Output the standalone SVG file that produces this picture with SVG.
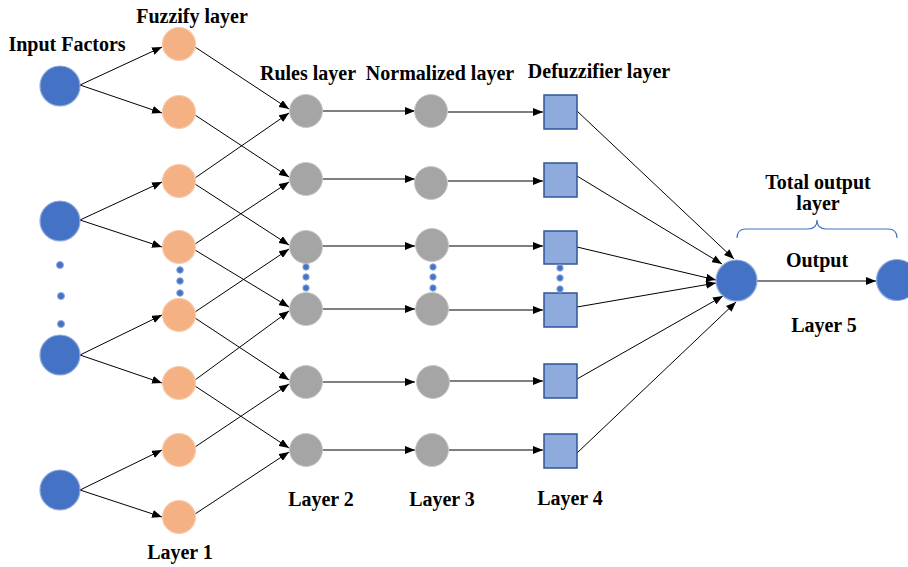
<svg xmlns="http://www.w3.org/2000/svg" width="908" height="567" viewBox="0 0 908 567">
<style>
text{font-family:"Liberation Serif","Times New Roman",serif;font-weight:bold;font-size:20px;fill:#000;text-anchor:middle}
.in{fill:#4472C4;stroke:#8FAADC;stroke-width:1.2}
.fz{fill:#F4B183;stroke:#F8CBAD;stroke-width:1.2}
.rl{fill:#A5A5A5;stroke:#C9C9C9;stroke-width:1}
.df{fill:#8FAADC;stroke:#2F5597;stroke-width:1.5}
.dot{fill:#4472C4;stroke:#8FAADC;stroke-width:1}
.c line{stroke:#000;stroke-width:1;marker-end:url(#ah)}
.c .h{stroke-width:1.2}
.br{fill:none;stroke:#4472C4;stroke-width:1.2}
</style>
<defs>
<marker id="ah" markerUnits="userSpaceOnUse" markerWidth="10" markerHeight="8" refX="10" refY="4" orient="auto">
<path d="M0,0 L10,4 L0,8 z" fill="#000"/>
</marker>
</defs>
<rect width="908" height="567" fill="#fff"/>
<g id="labels">
<text x="67" y="51">Input Factors</text>
<text x="192" y="23">Fuzzify layer</text>
<text x="308" y="80">Rules layer</text>
<text x="440" y="80">Normalized layer</text>
<text x="599" y="78">Defuzzifier layer</text>
<text x="818" y="189">Total output</text>
<text x="818" y="210">layer</text>
<text x="817" y="267">Output</text>
<text x="824" y="332">Layer 5</text>
<text x="180" y="559">Layer 1</text>
<text x="321" y="506">Layer 2</text>
<text x="442" y="506">Layer 3</text>
<text x="570" y="505">Layer 4</text>
</g>
<g class="c" id="connectors">
<line x1="80" y1="85" x2="162" y2="47"/>
<line x1="80" y1="85" x2="162" y2="113"/>
<line x1="80" y1="220" x2="162" y2="182"/>
<line x1="80" y1="220" x2="162" y2="247"/>
<line x1="80" y1="355" x2="162" y2="315"/>
<line x1="80" y1="355" x2="162" y2="383"/>
<line x1="80" y1="490" x2="162" y2="450"/>
<line x1="80" y1="490" x2="162" y2="517"/>
<line x1="195" y1="47" x2="289" y2="109"/>
<line x1="195" y1="115" x2="289" y2="177"/>
<line x1="195" y1="178" x2="289" y2="113"/>
<line x1="195" y1="184" x2="289" y2="245"/>
<line x1="195" y1="244" x2="289" y2="182"/>
<line x1="195" y1="250" x2="289" y2="307"/>
<line x1="195" y1="312" x2="289" y2="249"/>
<line x1="195" y1="318" x2="289" y2="380"/>
<line x1="195" y1="380" x2="289" y2="311"/>
<line x1="195" y1="386" x2="289" y2="448"/>
<line x1="195" y1="447" x2="289" y2="384"/>
<line x1="195" y1="514" x2="289" y2="452"/>
<line class="h" x1="322" y1="111" x2="415" y2="111"/>
<line class="h" x1="322" y1="179" x2="415" y2="179"/>
<line class="h" x1="322" y1="246" x2="415" y2="246"/>
<line class="h" x1="322" y1="309" x2="415" y2="309"/>
<line class="h" x1="322" y1="382" x2="415" y2="382"/>
<line class="h" x1="322" y1="450" x2="415" y2="450"/>
<line class="h" x1="448" y1="112" x2="543" y2="112"/>
<line class="h" x1="448" y1="181" x2="543" y2="181"/>
<line class="h" x1="448" y1="246" x2="543" y2="246"/>
<line class="h" x1="448" y1="310" x2="543" y2="310"/>
<line class="h" x1="448" y1="381" x2="543" y2="381"/>
<line class="h" x1="448" y1="450" x2="543" y2="450"/>
<line x1="577" y1="111" x2="734" y2="259"/>
<line x1="577" y1="176" x2="722" y2="264"/>
<line x1="577" y1="247" x2="716" y2="280"/>
<line x1="577" y1="307" x2="716" y2="283"/>
<line x1="577" y1="379" x2="723" y2="296"/>
<line x1="577" y1="453" x2="736" y2="302"/>
<line class="h" x1="757" y1="281" x2="876" y2="281"/>
</g>
<g id="input1"><circle class="in" cx="60" cy="86" r="20"/></g>
<g id="input2"><circle class="in" cx="60" cy="221" r="20"/></g>
<g id="input3"><circle class="in" cx="60" cy="355" r="20"/></g>
<g id="input4"><circle class="in" cx="60" cy="490" r="20"/></g>
<g id="input-dots">
<circle class="dot" cx="60" cy="265" r="3.5"/>
<circle class="dot" cx="61" cy="296" r="3.5"/>
<circle class="dot" cx="61" cy="324" r="3.5"/>
</g>
<g id="fuzz1"><circle class="fz" cx="179" cy="44" r="16.5"/></g>
<g id="fuzz2"><circle class="fz" cx="179" cy="112" r="16.5"/></g>
<g id="fuzz3"><circle class="fz" cx="179" cy="181" r="16.5"/></g>
<g id="fuzz4"><circle class="fz" cx="179" cy="247" r="16.5"/></g>
<g id="fuzz5"><circle class="fz" cx="179" cy="315" r="16.5"/></g>
<g id="fuzz6"><circle class="fz" cx="179" cy="383" r="16.5"/></g>
<g id="fuzz7"><circle class="fz" cx="179" cy="450" r="16.5"/></g>
<g id="fuzz8"><circle class="fz" cx="179" cy="517" r="16.5"/></g>
<g id="fuzz-dots">
<circle class="dot" cx="180" cy="270" r="3.3"/>
<circle class="dot" cx="180" cy="281" r="3.3"/>
<circle class="dot" cx="180" cy="293" r="3.3"/>
</g>
<g id="rule1"><circle class="rl" cx="306" cy="111" r="16.5"/></g>
<g id="rule2"><circle class="rl" cx="306" cy="179" r="16.5"/></g>
<g id="rule3"><circle class="rl" cx="306" cy="247" r="16.5"/></g>
<g id="rule4"><circle class="rl" cx="306" cy="309" r="16.5"/></g>
<g id="rule5"><circle class="rl" cx="306" cy="382" r="16.5"/></g>
<g id="rule6"><circle class="rl" cx="306" cy="450" r="16.5"/></g>
<g id="rule-dots">
<circle class="dot" cx="306" cy="267" r="3.2"/>
<circle class="dot" cx="306" cy="277" r="3.2"/>
<circle class="dot" cx="306" cy="288" r="3.2"/>
</g>
<g id="norm1"><circle class="rl" cx="431" cy="111" r="16.5"/></g>
<g id="norm2"><circle class="rl" cx="431" cy="183" r="16.5"/></g>
<g id="norm3"><circle class="rl" cx="432" cy="245" r="16.5"/></g>
<g id="norm4"><circle class="rl" cx="432" cy="309" r="16.5"/></g>
<g id="norm5"><circle class="rl" cx="433" cy="382" r="16.5"/></g>
<g id="norm6"><circle class="rl" cx="432" cy="450" r="16.5"/></g>
<g id="norm-dots">
<circle class="dot" cx="433" cy="267" r="3.2"/>
<circle class="dot" cx="433" cy="277" r="3.2"/>
<circle class="dot" cx="433" cy="288" r="3.2"/>
</g>
<g id="defuzz1"><rect class="df" x="544" y="95" width="33" height="34"/></g>
<g id="defuzz2"><rect class="df" x="544" y="163" width="33" height="34"/></g>
<g id="defuzz3"><rect class="df" x="544" y="231" width="33" height="33"/></g>
<g id="defuzz4"><rect class="df" x="544" y="293" width="33" height="34"/></g>
<g id="defuzz5"><rect class="df" x="544" y="364" width="33" height="34"/></g>
<g id="defuzz6"><rect class="df" x="544" y="434" width="33" height="34"/></g>
<g id="defuzz-dots">
<circle class="dot" cx="560" cy="268" r="3.2"/>
<circle class="dot" cx="560" cy="278" r="3.2"/>
<circle class="dot" cx="560" cy="289" r="3.2"/>
</g>
<g id="hub"><circle class="in" cx="736.5" cy="280.5" r="20.5"/></g>
<g id="output"><circle class="in" cx="897" cy="280" r="20.5"/></g>
<g id="bracket"><path class="br" d="M737,238 Q737,229 746,229 L808,229 Q817,229 817,220 Q817,229 826,229 L888,229 Q897,229 897,238"/></g>
</svg>
